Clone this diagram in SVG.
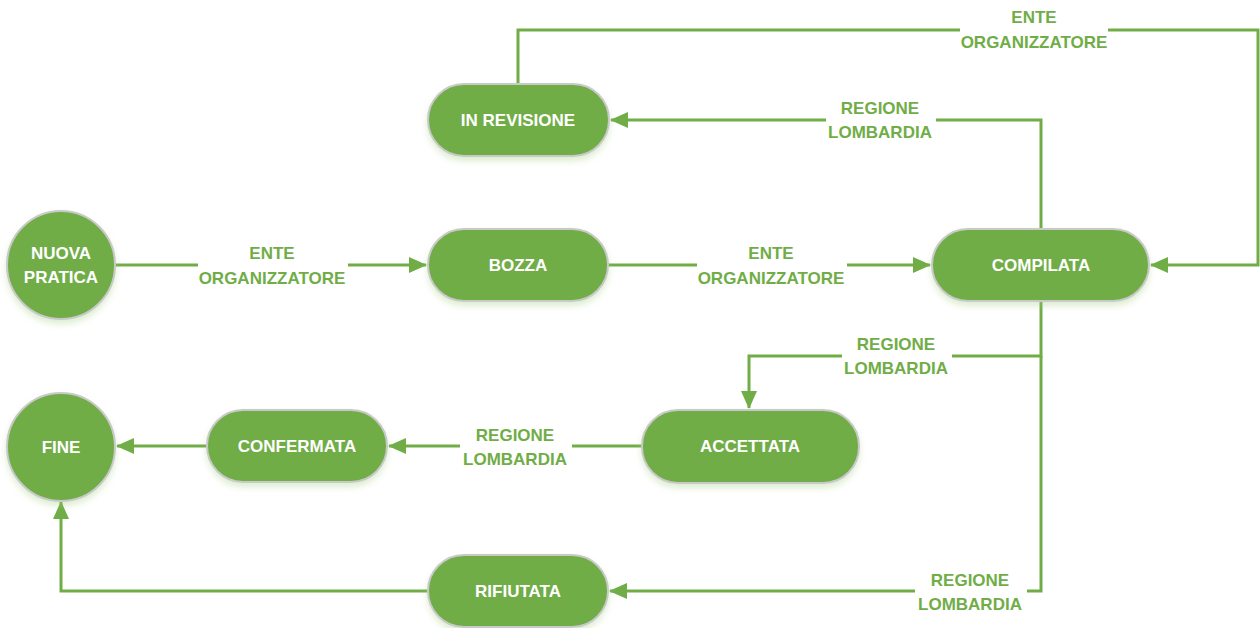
<svg xmlns="http://www.w3.org/2000/svg" width="1260" height="628" viewBox="0 0 1260 628">
<style>
.node{fill:#70AD47;stroke:#c9c9c9;stroke-width:2;filter:url(#sh)}
.nt{fill:#fff;font-family:"Liberation Sans",Arial,sans-serif;font-weight:bold;font-size:17px;text-anchor:middle}
.edge{fill:none;stroke:#70AD47;stroke-width:3}
.lbl{fill:#70AD47;font-family:"Liberation Sans",Arial,sans-serif;font-weight:bold;font-size:17px;text-anchor:middle}
.bg{fill:#fff}
</style>
<defs>
<marker id="ah" markerUnits="userSpaceOnUse" markerWidth="18" markerHeight="18" viewBox="0 0 18 18" refX="17" refY="9" orient="auto">
<path d="M0,1 L18,9 L0,17 Z" fill="#70AD47"/>
</marker>
<filter id="sh" x="-20%" y="-20%" width="140%" height="150%">
<feDropShadow dx="0" dy="4" stdDeviation="3" flood-color="#9ccf7a" flood-opacity="0.35"/>
</filter>
</defs>
<rect width="1260" height="628" fill="#fff"/>
<g id="connectors">
<path class="edge" d="M115,265 H426" marker-end="url(#ah)"/>
<path class="edge" d="M608,265 H930" marker-end="url(#ah)"/>
<path class="edge" d="M1041,229 V120 H611" marker-end="url(#ah)"/>
<path class="edge" d="M518,84 V30 H1258 V265 H1151" marker-end="url(#ah)"/>
<path class="edge" d="M1041,301 V356 H749 V408" marker-end="url(#ah)"/>
<path class="edge" d="M1041,356 V591 H610" marker-end="url(#ah)"/>
<path class="edge" d="M642,446 H389" marker-end="url(#ah)"/>
<path class="edge" d="M207,446 H117" marker-end="url(#ah)"/>
<path class="edge" d="M428,591 H61 V502" marker-end="url(#ah)"/>
<rect class="bg" x="198" y="240" width="150" height="50"/>
<text class="lbl" x="272" y="259">ENTE</text>
<text class="lbl" x="272" y="284">ORGANIZZATORE</text>
<rect class="bg" x="697" y="240" width="150" height="50"/>
<text class="lbl" x="771" y="259">ENTE</text>
<text class="lbl" x="771" y="284">ORGANIZZATORE</text>
<rect class="bg" x="826" y="96" width="110" height="48"/>
<text class="lbl" x="880" y="114">REGIONE</text>
<text class="lbl" x="880" y="138">LOMBARDIA</text>
<rect class="bg" x="960" y="5" width="148" height="50"/>
<text class="lbl" x="1034" y="23">ENTE</text>
<text class="lbl" x="1034" y="48">ORGANIZZATORE</text>
<rect class="bg" x="842" y="333" width="110" height="46"/>
<text class="lbl" x="896" y="350">REGIONE</text>
<text class="lbl" x="896" y="374">LOMBARDIA</text>
<rect class="bg" x="460" y="424" width="112" height="46"/>
<text class="lbl" x="515" y="441">REGIONE</text>
<text class="lbl" x="515" y="465">LOMBARDIA</text>
<rect class="bg" x="915" y="568" width="112" height="46"/>
<text class="lbl" x="970" y="586">REGIONE</text>
<text class="lbl" x="970" y="610">LOMBARDIA</text>
</g>
<g id="nuova-pratica">
<circle class="node" cx="61" cy="265" r="54"/>
<text class="nt" x="61" y="259">NUOVA</text>
<text class="nt" x="61" y="283">PRATICA</text>
</g>
<g id="bozza">
<rect class="node" x="428" y="229" width="180" height="72" rx="36"/>
<text class="nt" x="518" y="271">BOZZA</text>
</g>
<g id="in-revisione">
<rect class="node" x="428" y="84" width="181" height="72" rx="36"/>
<text class="nt" x="518" y="126">IN REVISIONE</text>
</g>
<g id="compilata">
<rect class="node" x="932" y="229" width="217" height="72" rx="36"/>
<text class="nt" x="1041" y="271">COMPILATA</text>
</g>
<g id="accettata">
<rect class="node" x="642" y="410" width="217" height="73" rx="36"/>
<text class="nt" x="750" y="452">ACCETTATA</text>
</g>
<g id="confermata">
<rect class="node" x="207" y="410" width="180" height="72" rx="36"/>
<text class="nt" x="297" y="452">CONFERMATA</text>
</g>
<g id="rifiutata">
<rect class="node" x="428" y="555" width="180" height="72" rx="36"/>
<text class="nt" x="518" y="597">RIFIUTATA</text>
</g>
<g id="fine">
<circle class="node" cx="61" cy="447" r="54"/>
<text class="nt" x="61" y="453">FINE</text>
</g>
</svg>
